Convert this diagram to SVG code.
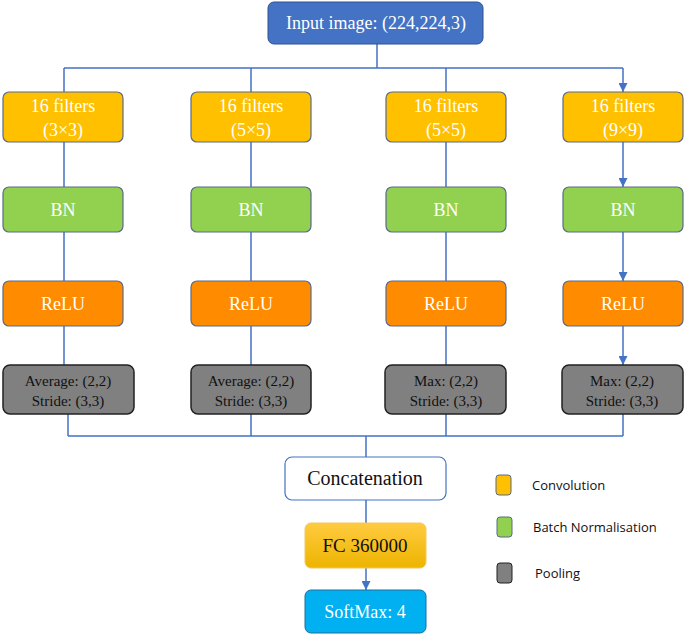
<svg xmlns="http://www.w3.org/2000/svg" width="685" height="636" viewBox="0 0 685 636">
<style>
.t{font-family:"Liberation Serif",serif;text-anchor:middle}
.w{fill:#fff;font-size:18px}
.k{fill:#111;font-size:15px}
.l{font-family:"Open Sans","DejaVu Sans",sans-serif;font-size:13px;fill:#111}
.c{stroke:#4472C4;stroke-width:1.5;fill:none}
.conv{fill:#FFC000;stroke:#5a6a8a;stroke-width:1.2}
.bn{fill:#92D050;stroke:#5a6a8a;stroke-width:1.2}
.relu{fill:#FF8C00;stroke:#5a6a8a;stroke-width:1.2}
.pool{fill:#808080;stroke:#222;stroke-width:1.5}
</style>
<defs><marker id="a" viewBox="0 0 10 10" refX="10" refY="5" markerWidth="6" markerHeight="6" orient="auto"><path d="M0,0L10,5L0,10z" fill="#4472C4"/></marker>
<linearGradient id="fc" x1="0" y1="0" x2="0" y2="1"><stop offset="0" stop-color="#FFCB40"/><stop offset="1" stop-color="#EDB400"/></linearGradient></defs>
<g id="connectors" class="c">
<path d="M377,44V68M64,68H623"/>
<path d="M64,68V92M251,68V92M446,68V92M623,68V92" marker-end="url(#a)"/>
<path d="M64,142V187M251,142V187M446,142V187M623,142V187" marker-end="url(#a)"/>
<path d="M64,232V281M251,232V281M446,232V281M623,232V281" marker-end="url(#a)"/>
<path d="M64,326V365M251,326V365M446,326V365M623,326V365" marker-end="url(#a)"/>
<path d="M68,414V436M251,414V436M446,414V436M623,414V436M68,436H623"/>
<path d="M366,436V457M366,500V523M366,568V590" marker-end="url(#a)"/>
</g>
<g id="input"><rect x="268" y="2" width="215" height="42" rx="6" fill="#4472C4" stroke="#2F528F"/><text class="t w" x="376" y="29">Input image: (224,224,3)</text></g>
<g id="conv1"><rect class="conv" x="3" y="92" width="120" height="50" rx="6"/><text class="t w" x="63" y="112">16 filters</text><text class="t w" x="63" y="136">(3×3)</text></g>
<g id="conv2"><rect class="conv" x="191" y="92" width="120" height="50" rx="6"/><text class="t w" x="251" y="112">16 filters</text><text class="t w" x="251" y="136">(5×5)</text></g>
<g id="conv3"><rect class="conv" x="386" y="92" width="120" height="50" rx="6"/><text class="t w" x="446" y="112">16 filters</text><text class="t w" x="446" y="136">(5×5)</text></g>
<g id="conv4"><rect class="conv" x="563" y="92" width="120" height="50" rx="6"/><text class="t w" x="623" y="112">16 filters</text><text class="t w" x="623" y="136">(9×9)</text></g>
<g id="bn1"><rect class="bn" x="3" y="187" width="120" height="45" rx="6"/><text class="t w" x="63" y="216">BN</text></g>
<g id="bn2"><rect class="bn" x="191" y="187" width="120" height="45" rx="6"/><text class="t w" x="251" y="216">BN</text></g>
<g id="bn3"><rect class="bn" x="386" y="187" width="120" height="45" rx="6"/><text class="t w" x="446" y="216">BN</text></g>
<g id="bn4"><rect class="bn" x="563" y="187" width="120" height="45" rx="6"/><text class="t w" x="623" y="216">BN</text></g>
<g id="relu1"><rect class="relu" x="3" y="281" width="120" height="45" rx="6"/><text class="t w" x="63" y="310">ReLU</text></g>
<g id="relu2"><rect class="relu" x="191" y="281" width="120" height="45" rx="6"/><text class="t w" x="251" y="310">ReLU</text></g>
<g id="relu3"><rect class="relu" x="386" y="281" width="120" height="45" rx="6"/><text class="t w" x="446" y="310">ReLU</text></g>
<g id="relu4"><rect class="relu" x="563" y="281" width="120" height="45" rx="6"/><text class="t w" x="623" y="310">ReLU</text></g>
<g id="pool1"><rect class="pool" x="3" y="365" width="131" height="49" rx="7"/><text class="t k" x="68" y="386">Average: (2,2)</text><text class="t k" x="68" y="406">Stride: (3,3)</text></g>
<g id="pool2"><rect class="pool" x="191" y="365" width="120" height="49" rx="7"/><text class="t k" x="251" y="386">Average: (2,2)</text><text class="t k" x="251" y="406">Stride: (3,3)</text></g>
<g id="pool3"><rect class="pool" x="385" y="365" width="121" height="49" rx="7"/><text class="t k" x="446" y="386">Max: (2,2)</text><text class="t k" x="446" y="406">Stride: (3,3)</text></g>
<g id="pool4"><rect class="pool" x="562" y="365" width="121" height="49" rx="7"/><text class="t k" x="622" y="386">Max: (2,2)</text><text class="t k" x="622" y="406">Stride: (3,3)</text></g>
<g id="concat"><rect x="285" y="457" width="161" height="43" rx="7" fill="#fff" stroke="#4472C4" stroke-width="1.2"/><text class="t" x="365" y="485" font-size="20" fill="#111">Concatenation</text></g>
<g id="fc"><rect x="305" y="523" width="121" height="45" rx="6" fill="url(#fc)" stroke="#F2C860"/><text class="t" x="365" y="552" font-size="19" fill="#111">FC 360000</text></g>
<g id="softmax"><rect x="305" y="590" width="121" height="43" rx="6" fill="#00B0F0" stroke="#1a6fa0"/><text class="t w" x="365" y="618" font-size="19">SoftMax: 4</text></g>
<g id="legend">
<rect x="496" y="475" width="15" height="20" rx="3" fill="#FFC000" stroke="#5a6a8a"/><text class="l" x="532" y="490">Convolution</text>
<rect x="497" y="517" width="15" height="20" rx="3" fill="#92D050" stroke="#5a6a8a"/><text class="l" x="533" y="532">Batch Normalisation</text>
<rect x="497" y="563" width="15" height="20" rx="3" fill="#808080" stroke="#222"/><text class="l" x="535" y="578">Pooling</text>
</g>
</svg>
